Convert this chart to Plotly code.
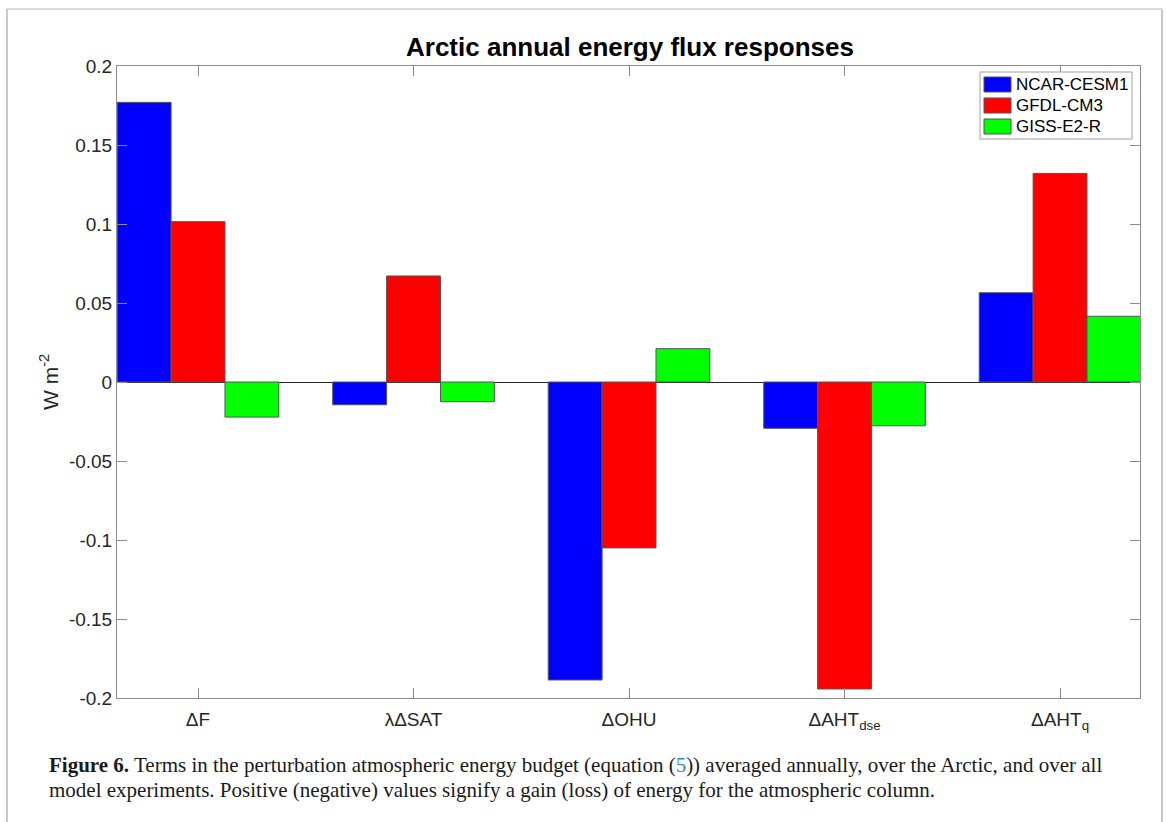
import plotly.graph_objects as go

categories = ["ΔF", "λΔSAT", "ΔOHU", "ΔAHT<sub>dse</sub>", "ΔAHT<sub>q</sub>"]
series_names = ["NCAR-CESM1", "GFDL-CM3", "GISS-E2-R"]
ncar = [0.177, -0.0144, -0.1886, -0.0293, 0.0565]
gfdl = [0.1015, 0.0671, -0.105, -0.1943, 0.132]
giss = [-0.0222, -0.0125, 0.0211, -0.0277, 0.0416]
colors = ["#0000ff", "#ff0000", "#00ff00"]
y_ticks = [-0.2, -0.15, -0.1, -0.05, 0, 0.05, 0.1, 0.15, 0.2]
y_ticktext = ["-0.2", "-0.15", "-0.1", "-0.05", "0", "0.05", "0.1", "0.15", "0.2"]

W, H = 1167, 822
ML, MR, MT, MB = 117, 27, 66, 124
PW = W - ML - MR
PH = H - MT - MB

def px2x(px):
    return (px - ML) / PW

def px2y(py):
    return (H - MB - py) / PH

SANS = "Liberation Sans, Arial, Helvetica, sans-serif"

fig = go.Figure()
for name, vals, c in zip(series_names, [ncar, gfdl, giss], colors):
    fig.add_trace(go.Bar(
        x=list(range(len(categories))), y=vals, name=name,
        marker=dict(color=c, line=dict(color="#555555", width=1)),
    ))

axis_common = dict(
    showline=True, linecolor="#8c8c8c", linewidth=1, mirror="ticks",
    ticks="inside", ticklen=10, tickcolor="#8c8c8c", showgrid=False,
    tickfont=dict(family=SANS, size=19, color="#262626"),
)

fig.update_layout(
    width=W, height=H,
    margin=dict(l=ML, r=MR, t=MT, b=MB),
    paper_bgcolor="white", plot_bgcolor="white",
    barmode="group", bargap=0.25, bargroupgap=0,
    showlegend=False,
    xaxis=dict(
        **axis_common,
        tickmode="array", tickvals=list(range(len(categories))), ticktext=categories,
        range=[-0.376, 4.371], ticklabelstandoff=4,
    ),
    yaxis=dict(
        **axis_common,
        tickmode="array", tickvals=y_ticks, ticktext=y_ticktext,
        range=[-0.2, 0.2],
        zeroline=True, zerolinecolor="#262626", zerolinewidth=1,
    ),
    font=dict(family=SANS, color="#000000"),
)

# Legend (drawn as a box with colour swatches and labels)
LEG_X0, LEG_X1, LEG_Y0, LEG_Y1 = 980, 1132, 72, 139
row_centres = [84.5, 105.5, 126.5]
fig.add_shape(type="rect", xref="paper", yref="paper",
              x0=px2x(LEG_X0), x1=px2x(LEG_X1), y0=px2y(LEG_Y1), y1=px2y(LEG_Y0),
              line=dict(color="#a0a0a0", width=1), fillcolor="white", layer="above")
for name, c, yc in zip(series_names, colors, row_centres):
    fig.add_shape(type="rect", xref="paper", yref="paper",
                  x0=px2x(984), x1=px2x(1011), y0=px2y(yc + 7.5), y1=px2y(yc - 7.5),
                  line=dict(color="#555555", width=1), fillcolor=c, layer="above")
    fig.add_annotation(
        text=name, xref="paper", yref="paper", x=px2x(1014), y=px2y(yc),
        xanchor="left", yanchor="middle", showarrow=False,
        font=dict(family=SANS, size=17, color="#000000"),
    )

# Title
fig.add_annotation(
    text="<b>Arctic annual energy flux responses</b>",
    xref="paper", yref="paper", x=px2x(630), y=px2y(47),
    xanchor="center", yanchor="middle", showarrow=False,
    font=dict(family=SANS, size=26, color="#000000"),
)

# Y axis label
fig.add_annotation(
    text="W m<sup>-2</sup>",
    xref="paper", yref="paper", x=px2x(49), y=px2y(382),
    xanchor="center", yanchor="middle", textangle=-90, showarrow=False,
    font=dict(family=SANS, size=21, color="#262626"),
)

# Caption
cap_font = dict(family="Liberation Serif, Times New Roman, serif", size=21, color="#1a1a1a")
fig.add_annotation(
    text="<b>Figure 6.</b> Terms in the perturbation atmospheric energy budget (equation (<span style='color:#2a8bc4'>5</span>)) averaged annually, over the Arctic, and over all",
    xref="paper", yref="paper", x=px2x(47), y=px2y(765),
    xanchor="left", yanchor="middle", showarrow=False, align="left", font=cap_font,
)
fig.add_annotation(
    text="model experiments. Positive (negative) values signify a gain (loss) of energy for the atmospheric column.",
    xref="paper", yref="paper", x=px2x(47), y=px2y(790),
    xanchor="left", yanchor="middle", showarrow=False, align="left", font=cap_font,
)

# Page border (frame of the source page)
fig.add_shape(type="line", xref="paper", yref="paper",
              x0=px2x(7), x1=px2x(7), y0=px2y(9), y1=px2y(822),
              line=dict(color="#c8c8c8", width=2))
fig.add_shape(type="line", xref="paper", yref="paper",
              x0=px2x(7), x1=px2x(1162), y0=px2y(9), y1=px2y(9),
              line=dict(color="#b4b4b4", width=1))
fig.add_shape(type="line", xref="paper", yref="paper",
              x0=px2x(1162), x1=px2x(1162), y0=px2y(9), y1=px2y(822),
              line=dict(color="#c8c8c8", width=2))

fig.write_html("out.html", config={"displayModeBar": False},
               post_script="document.body.style.margin='0px';")
